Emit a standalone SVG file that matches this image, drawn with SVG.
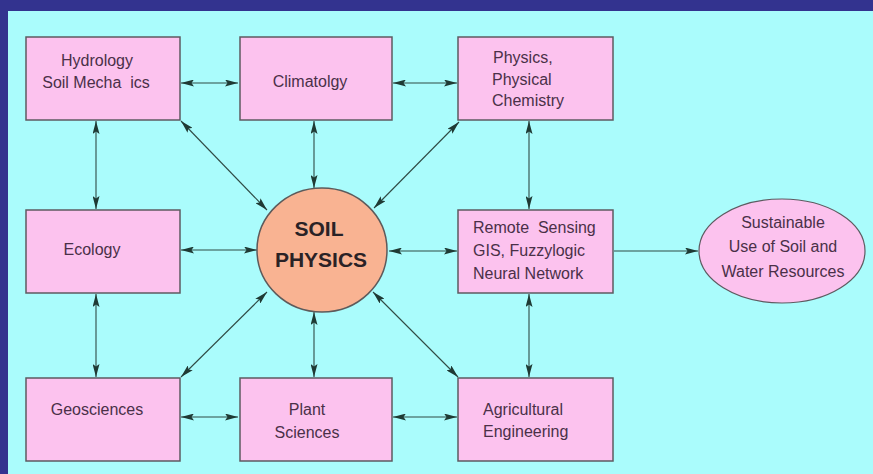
<svg xmlns="http://www.w3.org/2000/svg" width="873" height="474" viewBox="0 0 873 474">
  <defs>
    <style>
      .box { fill: #fcc2ee; stroke: #5e5a60; stroke-width: 1.5; }
      .hub { fill: #f9b392; stroke: #5e5a5a; stroke-width: 1.5; }
      .goal { fill: #fcc2ee; stroke: #5e5a60; stroke-width: 1.2; }
      .lbl { font-family: "Liberation Sans", Arial, sans-serif; font-size: 16px; fill: #4a3048; }
      .hubtxt { font-family: "Liberation Sans", Arial, sans-serif; font-size: 21px; font-weight: bold; fill: #2a2226; }
      .link { stroke: #2f4a44; stroke-width: 1.1; fill: none; }
    </style>
    <marker id="ah" viewBox="0 0 13 7" refX="13" refY="3.5" markerWidth="13" markerHeight="7" markerUnits="userSpaceOnUse" orient="auto-start-reverse">
      <path d="M0,0 L13,3.5 L0,7 L2.5,3.5 Z" fill="#1f3a34"/>
    </marker>
  </defs>

  <!-- backdrop -->
  <rect x="0" y="0" width="873" height="474" fill="#33338f"/>
  <rect x="8" y="11" width="865" height="463" fill="#aafcfc"/>

  <!-- connectors -->
  <g id="connectors">
    <line class="link" x1="181" y1="83" x2="238" y2="83" marker-start="url(#ah)" marker-end="url(#ah)"/>
    <line class="link" x1="393" y1="83" x2="457" y2="83" marker-start="url(#ah)" marker-end="url(#ah)"/>
    <line class="link" x1="96" y1="121" x2="96" y2="209" marker-start="url(#ah)" marker-end="url(#ah)"/>
    <line class="link" x1="529" y1="121" x2="529" y2="209" marker-start="url(#ah)" marker-end="url(#ah)"/>
    <line class="link" x1="314" y1="121" x2="314" y2="188" marker-start="url(#ah)" marker-end="url(#ah)"/>
    <line class="link" x1="181" y1="250" x2="257" y2="250" marker-start="url(#ah)" marker-end="url(#ah)"/>
    <line class="link" x1="389" y1="251" x2="457" y2="251" marker-start="url(#ah)" marker-end="url(#ah)"/>
    <line class="link" x1="614" y1="251" x2="698" y2="251" marker-end="url(#ah)"/>
    <line class="link" x1="96" y1="294" x2="96" y2="377" marker-start="url(#ah)" marker-end="url(#ah)"/>
    <line class="link" x1="529" y1="294" x2="529" y2="377" marker-start="url(#ah)" marker-end="url(#ah)"/>
    <line class="link" x1="314" y1="312" x2="314" y2="377" marker-start="url(#ah)" marker-end="url(#ah)"/>
    <line class="link" x1="181" y1="417" x2="238" y2="417" marker-start="url(#ah)" marker-end="url(#ah)"/>
    <line class="link" x1="393" y1="417" x2="457" y2="417" marker-start="url(#ah)" marker-end="url(#ah)"/>
    <line class="link" x1="181" y1="121" x2="267" y2="210" marker-start="url(#ah)" marker-end="url(#ah)"/>
    <line class="link" x1="459" y1="122" x2="374" y2="208" marker-start="url(#ah)" marker-end="url(#ah)"/>
    <line class="link" x1="181" y1="377" x2="267" y2="292" marker-start="url(#ah)" marker-end="url(#ah)"/>
    <line class="link" x1="458" y1="377" x2="373" y2="292" marker-start="url(#ah)" marker-end="url(#ah)"/>
  </g>

  <g id="hydrology">
    <rect class="box" x="26" y="37" width="154" height="83"/>
    <text class="lbl" x="97" y="66" text-anchor="middle">Hydrology</text>
    <text class="lbl" x="96" y="88" text-anchor="middle" xml:space="preserve">Soil Mecha  ics</text>
  </g>

  <g id="climatology">
    <rect class="box" x="240" y="37" width="152" height="83"/>
    <text class="lbl" x="310" y="87" text-anchor="middle">Climatolgy</text>
  </g>

  <g id="physics">
    <rect class="box" x="458" y="37" width="155" height="83"/>
    <text class="lbl" x="493" y="63">Physics,</text>
    <text class="lbl" x="492" y="85">Physical</text>
    <text class="lbl" x="492" y="106">Chemistry</text>
  </g>

  <g id="ecology">
    <rect class="box" x="26" y="210" width="154" height="83"/>
    <text class="lbl" x="92" y="255" text-anchor="middle">Ecology</text>
  </g>

  <g id="soil-physics">
    <ellipse class="hub" cx="322" cy="250" rx="65" ry="62"/>
    <text class="hubtxt" x="319" y="236" text-anchor="middle">SOIL</text>
    <text class="hubtxt" x="321" y="267" text-anchor="middle">PHYSICS</text>
  </g>

  <g id="remote-sensing">
    <rect class="box" x="458" y="210" width="155" height="83"/>
    <text class="lbl" x="473" y="233" xml:space="preserve">Remote  Sensing</text>
    <text class="lbl" x="473" y="256">GIS, Fuzzylogic</text>
    <text class="lbl" x="473" y="279">Neural Network</text>
  </g>

  <g id="sustainable-use">
    <ellipse class="goal" cx="782" cy="251" rx="83" ry="52"/>
    <text class="lbl" x="783" y="228" text-anchor="middle">Sustainable</text>
    <text class="lbl" x="783" y="252" text-anchor="middle">Use of Soil and</text>
    <text class="lbl" x="783" y="277" text-anchor="middle">Water Resources</text>
  </g>

  <g id="geosciences">
    <rect class="box" x="26" y="378" width="154" height="83"/>
    <text class="lbl" x="97" y="415" text-anchor="middle">Geosciences</text>
  </g>

  <g id="plant-sciences">
    <rect class="box" x="240" y="378" width="152" height="83"/>
    <text class="lbl" x="307" y="415" text-anchor="middle">Plant</text>
    <text class="lbl" x="307" y="438" text-anchor="middle">Sciences</text>
  </g>

  <g id="agricultural-engineering">
    <rect class="box" x="458" y="378" width="155" height="83"/>
    <text class="lbl" x="483" y="415">Agricultural</text>
    <text class="lbl" x="483" y="437">Engineering</text>
  </g>
</svg>
